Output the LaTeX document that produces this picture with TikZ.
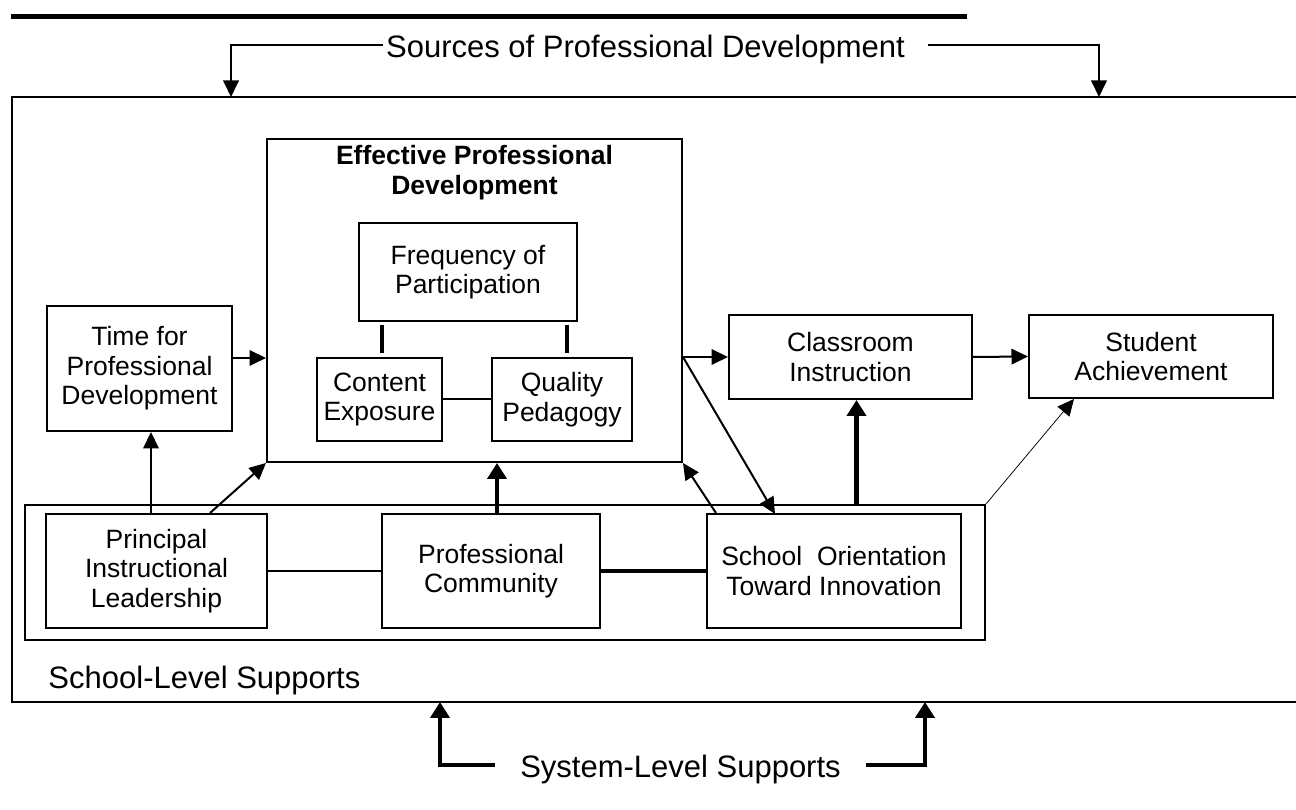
\documentclass[tikz,border=0pt]{standalone}
\usepackage{fontspec}
\setmainfont{Liberation Sans}
\usetikzlibrary{arrows.meta}
\usetikzlibrary{positioning}

\newcommand{\boxfont}{\fontsize{10.6}{11.8}\selectfont}
\newcommand{\labelfont}{\fontsize{12.4}{14}\selectfont}

\tikzset{
    block/.style 2 args={draw, rectangle, line width=0.8pt, inner sep=0pt, align=center, font=\boxfont, minimum width=#1*0.4pt, minimum height=#2*0.4pt},
    arr/.style={-{Triangle[length=6.6pt,width=6.2pt]}, line width=0.8pt},
    thickarr/.style={-{Triangle[length=6.4pt,width=7.6pt]}, line width=1.8pt},
}

\begin{document}
\begin{tikzpicture}[x=0.4pt, y=-0.4pt]
    \useasboundingbox (0,0) rectangle (1296,810);

    % heading bar and outer frame
    \draw [line width=2pt] (11,16.5) -- (967,16.5);
    \coordinate (frameNW) at (12,97);
    \coordinate (frameSW) at (12,702);
    \draw [line width=0.8pt] (1300,97) -- (frameNW) -- (frameSW) -- (1300,702);

    \node (sources) [font=\labelfont, inner xsep=1pt, inner ysep=0pt] at (645.5,49) {Sources of Professional Development};
    \coordinate (srcLeft) at (231,97);
    \coordinate (srcRight) at (1099,97);
    \draw [arr] ([yshift=1.6pt]sources.west) -| (srcLeft);
    \draw [arr] ([xshift=8pt, yshift=1.6pt]sources.east) -| (srcRight);

    % effective professional development
    \node (epd) [block={415}{323}] at (474.5,300.5) {};
    \node (epdTitle) [font=\boxfont\bfseries, align=center, inner sep=0pt] at (474.5,172.5) {Effective Professional\\Development};
    \node (freq) [block={218}{98}] at (468,272) {Frequency of\\Participation};
    \node (content) [block={125}{83}] at (379.5,399.5) {Content\\Exposure};
    \node (quality) [block={140}{83}] at (562,399.5) {Quality\\Pedagogy};

    \draw [line width=1.6pt, shorten <=1.2pt, shorten >=1.6pt] ([xshift=1pt]freq.south -| content.north) -- ([xshift=1pt]content.north);
    \draw [line width=1.6pt, shorten <=1.2pt, shorten >=1.6pt] ([xshift=2pt]freq.south -| quality.north) -- ([xshift=2pt]quality.north);
    \draw [line width=0.8pt] (content.east) -- (quality.west);

    \node (time) [block={185}{125}] at (139.5,368.5) {Time for\\Professional\\Development};
    \node (classroom) [block={243}{84}] at (850.5,357) {Classroom\\Instruction};
    \node (student) [block={244}{83}] at (1151,356.5) {Student\\Achievement};

    % school-level supports
    \node (support) [block={960}{135}] at (505,572.5) {};
    \node (principal) [block={221}{114}] at (156.5,571) {Principal\\Instructional\\Leadership};
    \node (community) [block={218}{114}] at (491,571) {Professional\\Community};
    \node (orient) [block={254}{114}] at (834,571) {School~~Orientation\\Toward Innovation};
    \node (schoolLabel) [font=\labelfont, anchor=base west, inner sep=0pt] at (48,689) {School-Level Supports};

    \draw [arr] ([yshift=4.2pt]time.east) -- ([yshift=4.2pt]time.east -| epd.west);
    \draw [arr] (classroom.west -| epd.east) -- (classroom.west);
    \draw [arr] (classroom.east) -- (student.west);

    \coordinate (orientIn) at (775,514);
    \draw [arr] (classroom.west -| epd.east) -- (orientIn);
    \draw [arr] ([xshift=4pt]orient.north west) -- (epd.south east);
    \draw [thickarr] ([xshift=2.4pt]classroom.south |- support.north) -- ([xshift=2.4pt]classroom.south);
    \draw [line width=0.3pt, -{Triangle[length=6.6pt,width=6.2pt]}] (support.north east) -- ([xshift=18.4pt]student.south west);

    \draw [arr] ([xshift=-2.2pt]principal.north) -- ([xshift=-2.2pt]principal.north |- time.south);
    \draw [arr] ([xshift=-23.2pt]principal.north east) -- (epd.south west);
    \draw [thickarr] ([xshift=2.4pt]community.north) -- ([xshift=2.4pt]community.north |- epd.south);
    \draw [line width=0.8pt] (principal.east) -- (community.west);
    \draw [line width=1.8pt] (community.east) -- (orient.west);

    % system-level supports
    \node (system) [font=\labelfont, inner xsep=10pt, inner ysep=0pt] at (680.5,769) {System-Level Supports};
    \coordinate (sysLeft) at (440,702);
    \coordinate (sysRight) at (925,702);
    \draw [thickarr] ([yshift=1.6pt]system.west) -| (sysLeft);
    \draw [thickarr] ([yshift=1.6pt]system.east) -| (sysRight);
\end{tikzpicture}
\end{document}
